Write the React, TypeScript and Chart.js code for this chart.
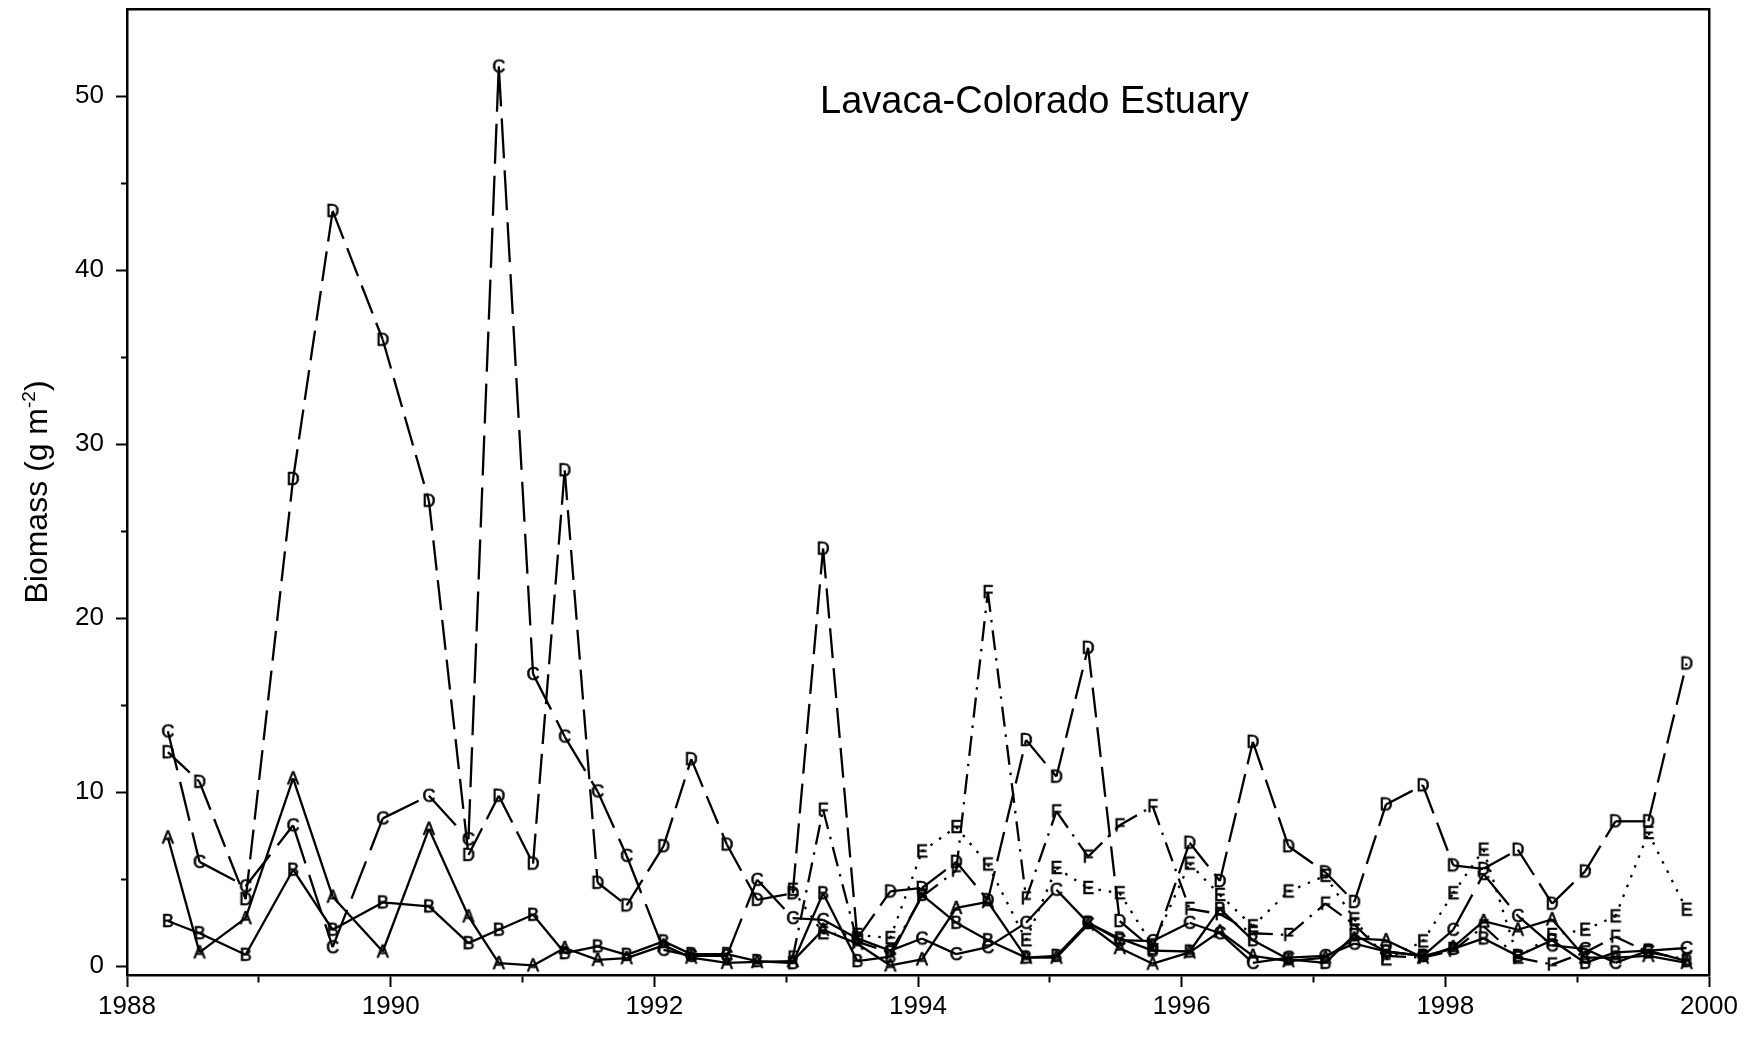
import React, { useEffect, useRef } from 'react';
import { Chart, registerables } from 'chart.js';

Chart.register(...registerables);

// Sampling dates (decimal years)
const sampleDates = [
  1988.31, 1988.55, 1988.90, 1989.26, 1989.56, 1989.94, 1990.29, 1990.59, 1990.82, 1991.08,
  1991.32, 1991.57, 1991.79, 1992.07, 1992.28, 1992.55, 1992.78, 1993.05, 1993.28, 1993.54,
  1993.79, 1994.03, 1994.29, 1994.53, 1994.82, 1995.05, 1995.29, 1995.53, 1995.78, 1996.06,
  1996.29, 1996.54, 1996.81, 1997.09, 1997.31, 1997.55, 1997.83, 1998.06, 1998.29, 1998.55,
  1998.81, 1999.06, 1999.29, 1999.54, 1999.83,
];

// Station series (g m-2)
const seriesA = [
  7.4, 0.8, 2.77, 10.8, 4.0, 0.85, 7.9, 2.87, 0.18, 0.05,
  1.05, 0.37, 0.47, 1.2, 0.5, 0.2, 0.25, 0.3, 2.1, 1.3,
  0.05, 0.4, 3.35, 3.7, 0.5, 0.5, 2.4, 1.05, 0.15, 0.8,
  2.0, 0.6, 0.3, 0.5, 1.6, 1.5, 0.5, 1.1, 2.6, 2.1,
  2.7, 0.5, 0.5, 0.6, 0.2,
];
const seriesB = [
  2.6, 1.9, 0.66, 5.55, 2.1, 3.67, 3.44, 1.33, 2.1, 2.96,
  0.76, 1.14, 0.66, 1.43, 0.7, 0.7, 0.3, 0.18, 4.2, 0.3,
  0.56, 4.1, 2.5, 1.5, 0.5, 0.6, 2.5, 1.6, 0.9, 0.85,
  3.3, 1.5, 0.4, 0.2, 1.8, 0.85, 0.6, 1.0, 1.6, 0.6,
  1.5, 0.2, 0.8, 0.9, 0.3,
];
const seriesC = [
  13.5, 6.0, 4.6, 8.1, 1.1, 8.5, 9.8, 7.3, 51.7, 16.8,
  13.2, 10.05, 6.35, 0.95, 0.6, 0.6, 4.97, 2.77, 2.67, 1.6,
  0.9, 1.6, 0.7, 1.1, 2.5, 4.4, 2.5, 1.5, 1.45, 2.5,
  1.9, 0.2, 0.5, 0.6, 1.3, 0.85, 0.6, 2.1, 5.3, 2.9,
  1.2, 1.0, 0.2, 0.9, 1.05,
];
const seriesD = [
  12.3, 10.6, 3.86, 28.0, 43.4, 36.0, 26.75, 6.4, 9.8, 5.9,
  28.5, 4.8, 3.5, 6.9, 11.9, 7.0, 3.82, 4.2, 24.0, 1.6,
  4.3, 4.5, 6.0, 3.8, 13.0, 10.9, 18.3, 2.6, 1.0, 7.1,
  4.9, 12.9, 6.9, 5.4, 3.7, 9.3, 10.4, 5.8, 5.6, 6.7,
  3.6, 5.45, 8.33, 8.33, 17.4,
];
// Stations E and F start at the 18th sampling date (1993.05)
const lateStart = 17;
const seriesE = [
  4.4, 1.9, 1.8, 1.62, 6.6, 8.0, 5.85, 1.5, 5.65, 4.5,
  4.2, 1.2, 5.9, 4.1, 2.3, 4.3, 5.2, 2.7, 0.4, 1.43,
  4.2, 6.7, 0.5, 1.8, 2.1, 2.87, 7.66, 3.25,
];
const seriesF = [
  0.5, 9.0, 1.4, 0.8, 4.0, 5.5, 21.5, 3.9, 8.9, 6.3,
  8.1, 9.2, 3.3, 3.0, 1.9, 1.8, 3.6, 2.4, 0.6, 0.5,
  0.9, 2.3, 0.5, 0.1, 0.8, 1.7, 0.8, 0.4,
];

const yearMin = 1988;
const yearMax = 2000;
const biomassMin = -0.5;
const biomassMax = 55;
const chartTitle = 'Lavaca-Colorado Estuary';
const yTitleMain = 'Biomass (g m';
const yTitleSup = '-2';
const yTitleEnd = ')';

const FONT = '"Liberation Sans", Arial, Helvetica, sans-serif';

function toPoints(values: number[], offset = 0) {
  return values.map((v, i) => ({ x: sampleDates[i + offset], y: v }));
}

function letterCanvas(letter: string) {
  const c = document.createElement('canvas');
  c.width = 20;
  c.height = 22;
  const g = c.getContext('2d')!;
  g.font = `18px ${FONT}`;
  g.fillStyle = '#000';
  g.strokeStyle = '#000';
  g.lineWidth = 0.6;
  g.textAlign = 'center';
  g.textBaseline = 'alphabetic';
  const by = 11 + 0.358 * 18;
  g.fillText(letter, 10, by);
  g.strokeText(letter, 10, by);
  return c;
}

const restartDash = {
  borderDashOffset: (ctx: any) => (ctx.p0DataIndex % 2) * 0.001,
};

export default function App() {
  const ref = useRef<HTMLCanvasElement>(null);

  useEffect(() => {
    const canvas = ref.current!;
    const mk = (label: string, data: any[], dash: number[]) => ({
      label,
      data,
      borderColor: '#000',
      backgroundColor: '#000',
      borderWidth: 2.3,
      borderDash: dash,
      pointStyle: letterCanvas(label),
      pointRadius: 4,
      pointHoverRadius: 4,
      tension: 0,
      fill: false,
      segment: restartDash,
    });

    const titlePlugin = {
      id: 'textOverlay',
      afterDraw(chart: any) {
        const { ctx, chartArea } = chart;
        ctx.save();
        ctx.fillStyle = '#000';
        ctx.font = `38px ${FONT}`;
        ctx.textAlign = 'left';
        ctx.textBaseline = 'alphabetic';
        ctx.fillText(chartTitle, chartArea.left + 693, chartArea.top + 104);

        // rotated y-axis title with superscript
        const cy = (chartArea.top + chartArea.bottom) / 2;
        ctx.translate(47, cy);
        ctx.rotate(-Math.PI / 2);
        const mainFont = `32px ${FONT}`;
        const supFont = `19px ${FONT}`;
        ctx.font = mainFont;
        const w1 = ctx.measureText(yTitleMain).width;
        const w3 = ctx.measureText(yTitleEnd).width;
        ctx.font = supFont;
        const w2 = ctx.measureText(yTitleSup).width;
        const total = w1 + w2 + w3;
        let x = -total / 2;
        ctx.font = mainFont;
        ctx.fillText(yTitleMain, x, 0);
        x += w1;
        ctx.font = supFont;
        ctx.fillText(yTitleSup, x, -12);
        x += w2;
        ctx.font = mainFont;
        ctx.fillText(yTitleEnd, x, 0);
        ctx.restore();
      },
    };

    const chart = new Chart(canvas, {
      type: 'line',
      data: {
        datasets: [
          mk('A', toPoints(seriesA), []),
          mk('B', toPoints(seriesB), []),
          mk('C', toPoints(seriesC), [40, 12]),
          mk('D', toPoints(seriesD), [30, 10]),
          mk('E', toPoints(seriesE, lateStart), [2.5, 8]),
          mk('F', toPoints(seriesF, lateStart), [20, 8, 2.5, 8]),
        ],
      },
      options: {
        responsive: false,
        animation: false,
        events: [],
        layout: { padding: { top: 9, right: 49, bottom: 0, left: 0 } },
        plugins: {
          legend: { display: false },
          tooltip: { enabled: false },
          title: { display: false },
        },
        scales: {
          x: {
            type: 'linear',
            position: 'bottom',
            min: yearMin,
            max: yearMax,
            ticks: {
              stepSize: 1,
              autoSkip: false,
              maxRotation: 0,
              padding: 4,
              color: '#000',
              font: { family: FONT, size: 26 },
              callback: (v: any) => (Number(v) % 2 === 0 ? String(v) : ''),
            },
            grid: {
              drawOnChartArea: false,
              drawTicks: true,
              tickLength: 12,
              tickWidth: 2,
              tickColor: '#000',
              tickBorderDash: (ctx: any) =>
                ctx.tick && Number(ctx.tick.value) % 2 !== 0 ? [6, 100] : [],
            },
            border: { display: true, color: '#000', width: 2.5 },
            afterFit: (s: any) => {
              s.height = 76;
              s.paddingLeft = 0;
              s.paddingRight = 0;
            },
          },
          x2: {
            type: 'linear',
            position: 'top',
            min: yearMin,
            max: yearMax,
            ticks: { display: false },
            grid: { drawOnChartArea: false, drawTicks: false },
            border: { display: true, color: '#000', width: 2.5 },
            afterFit: (s: any) => {
              s.height = 0;
              s.paddingLeft = 0;
              s.paddingRight = 0;
            },
          },
          y: {
            type: 'linear',
            position: 'left',
            min: biomassMin,
            max: biomassMax,
            ticks: {
              stepSize: 5,
              includeBounds: false,
              autoSkip: false,
              padding: 12,
              color: '#000',
              font: { family: FONT, size: 26 },
              callback: (v: any) => {
                const n = Number(v);
                if (n > 50) return null;
                return n % 10 === 0 ? String(n) : '';
              },
            },
            grid: {
              drawOnChartArea: false,
              tickLength: 11,
              tickWidth: 2,
              tickColor: (ctx: any) =>
                ctx.tick && Number(ctx.tick.value) > 50 ? 'rgba(0,0,0,0)' : '#000',
              tickBorderDash: (ctx: any) =>
                ctx.tick && Number(ctx.tick.value) % 10 !== 0 ? [0, 5, 10, 100] : [],
            },
            border: { display: true, color: '#000', width: 2.5 },
            afterFit: (s: any) => {
              s.width = 127;
              s.paddingTop = 0;
              s.paddingBottom = 0;
            },
          },
          y2: {
            type: 'linear',
            position: 'right',
            min: biomassMin,
            max: biomassMax,
            ticks: { display: false },
            grid: { drawOnChartArea: false, drawTicks: false },
            border: { display: true, color: '#000', width: 2.5 },
            afterFit: (s: any) => {
              s.width = 0;
              s.paddingTop = 0;
              s.paddingBottom = 0;
            },
          },
        },
      },
      plugins: [titlePlugin],
    } as any);

    return () => chart.destroy();
  }, []);

  return (
    <div style={{ position: 'absolute', left: 0, top: 0, width: 1758, height: 1051, background: '#fff' }}>
      <canvas ref={ref} width={1758} height={1051} style={{ display: 'block' }} />
    </div>
  );
}
